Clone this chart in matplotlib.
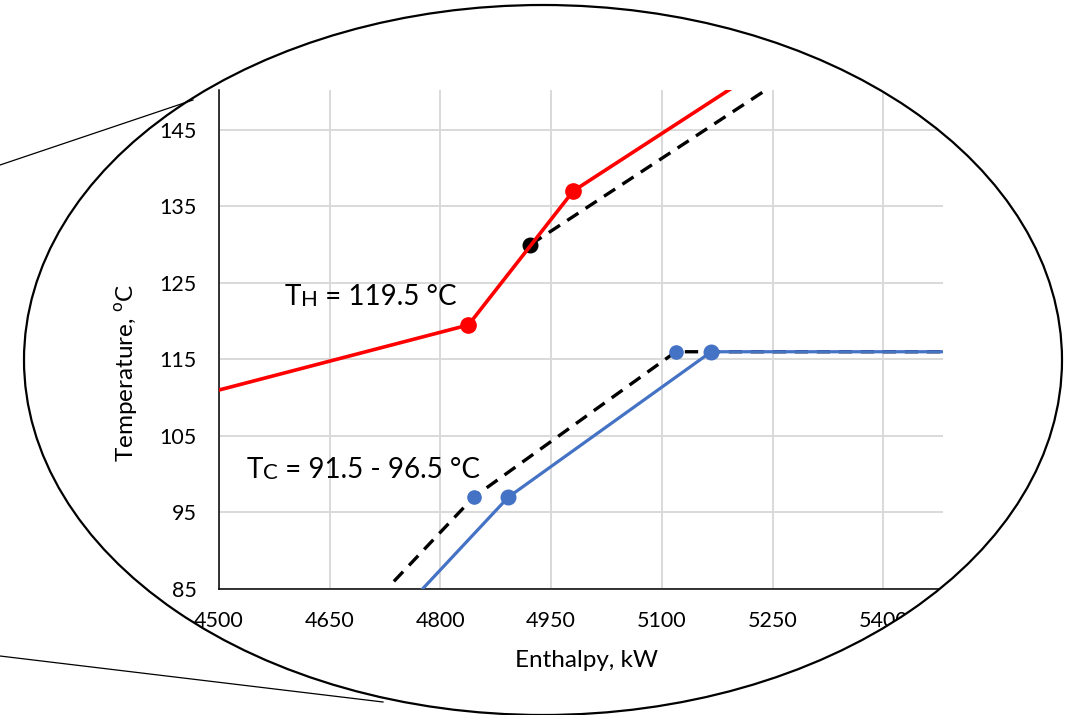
import numpy as np
import matplotlib
matplotlib.use("Agg")
import matplotlib.pyplot as plt
from matplotlib.path import Path
from matplotlib.patches import PathPatch, Ellipse
from matplotlib.lines import Line2D

plt.rcParams['font.family'] = ['Lato', 'DejaVu Sans']

# hot composite curve (red) and shifted hot curve (black dashed)
hot_h = [4500, 4838, 4980, 5210]
hot_t = [111.0, 119.5, 137.0, 151.4]
hot_shift_h = [4922, 5260]
hot_shift_t = [130.0, 151.4]

# cold composite curve (blue) and shifted cold curve (black dashed)
cold_h = [4768, 4892, 5167, 5500]
cold_t = [84.2, 97.0, 116.0, 116.0]
cold_shift_h = [4737, 4845, 5119, 5500]
cold_shift_t = [86.0, 97.0, 116.0, 116.0]

x_ticks = [4500, 4650, 4800, 4950, 5100, 5250, 5400]
y_ticks = [85, 95, 105, 115, 125, 135, 145]

W, H = 1074, 715
fig = plt.figure(figsize=(W / 100, H / 100), dpi=100)
ax = fig.add_axes([219 / W, 1 - 589 / H, (943 - 219) / W, (589 - 90) / H])

red = '#FF0000'
blue = '#4472C4'

# dashed lines go under the solid ones
ax.plot(hot_shift_h, hot_shift_t, color='black', lw=2.4, dashes=(4, 2.6),
        marker='o', ms=10.5, markevery=[0], zorder=2)
ax.plot(cold_shift_h, cold_shift_t, color='black', lw=2.4, dashes=(4, 2.6),
        zorder=2)
ax.plot(cold_shift_h[1:3], cold_shift_t[1:3], 'o', color=blue, ms=9.5, zorder=2.5)
ax.plot(hot_h, hot_t, color=red, lw=2.6, marker='o', ms=11,
        markevery=[1, 2], zorder=3)
ax.plot(cold_h, cold_t, color=blue, lw=2.3, marker='o', ms=10.5,
        markevery=[1, 2], zorder=3)

ax.set_xlim(4500, 5481)
ax.set_ylim(85, 150.2)
ax.set_xticks(x_ticks)
ax.set_yticks(y_ticks)
ax.grid(True, color='#d9d9d9', lw=1.4)
ax.set_axisbelow(True)
for s in ['top', 'right']:
    ax.spines[s].set_visible(False)
for s in ['left', 'bottom']:
    ax.spines[s].set_linewidth(1.1)
ax.tick_params(axis='both', length=0, labelsize=15.5)
ax.tick_params(axis='x', pad=16)
ax.tick_params(axis='y', pad=16)

ax.set_xlabel('Enthalpy, kW', fontsize=17.5, va='center')
ax.xaxis.set_label_coords(0.508, -0.143)
ax.set_ylabel(r'Temperature, $^\mathregular{o}$C', fontsize=17.5, va='center')
ax.yaxis.set_label_coords(-0.126, 0.433)


def small_caps_label(x, y, big, small, rest):
    t1 = ax.text(x, y, big, fontsize=20, va='baseline', ha='left', zorder=5)
    t2 = ax.annotate(small, xy=(1, 0), xycoords=t1, fontsize=16,
                     va='bottom', ha='left', zorder=5)
    ax.annotate(rest, xy=(1, 0), xycoords=t2, fontsize=20,
                va='bottom', ha='left', zorder=5)


small_caps_label(4589, 122.1, 'T', 'H', ' = 119.5 °C')
small_caps_label(4538, 99.5, 'T', 'C', ' = 91.5 - 96.5 °C')

# white mask outside the zoom ellipse
cx, cy = 543 / W, 1 - 360 / H
a, b = 519 / W, 355 / H
th = np.linspace(0, -2 * np.pi, 400)
ell = np.column_stack([cx + a * np.cos(th), cy + b * np.sin(th)])
rect = np.array([[0, 0], [1, 0], [1, 1], [0, 1], [0, 0]])
verts = np.vstack([rect, ell])
codes = ([Path.MOVETO] + [Path.LINETO] * 3 + [Path.CLOSEPOLY] +
         [Path.MOVETO] + [Path.LINETO] * (len(ell) - 2) + [Path.CLOSEPOLY])
mask = PathPatch(Path(verts, codes), facecolor='white', edgecolor='none',
                 transform=fig.transFigure, zorder=10)
fig.add_artist(mask)
fig.add_artist(Ellipse((cx, cy), 2 * a, 2 * b, transform=fig.transFigure,
                       fill=False, edgecolor='black', lw=1.6, zorder=11))

# callout lines
fig.add_artist(Line2D([0, 193 / W], [1 - 165 / H, 1 - 100 / H],
                      color='black', lw=0.9, transform=fig.transFigure, zorder=11))
fig.add_artist(Line2D([0, 383 / W], [1 - 656 / H, 1 - 702 / H],
                      color='black', lw=0.9, transform=fig.transFigure, zorder=11))

fig.savefig('out.png', dpi=100)
